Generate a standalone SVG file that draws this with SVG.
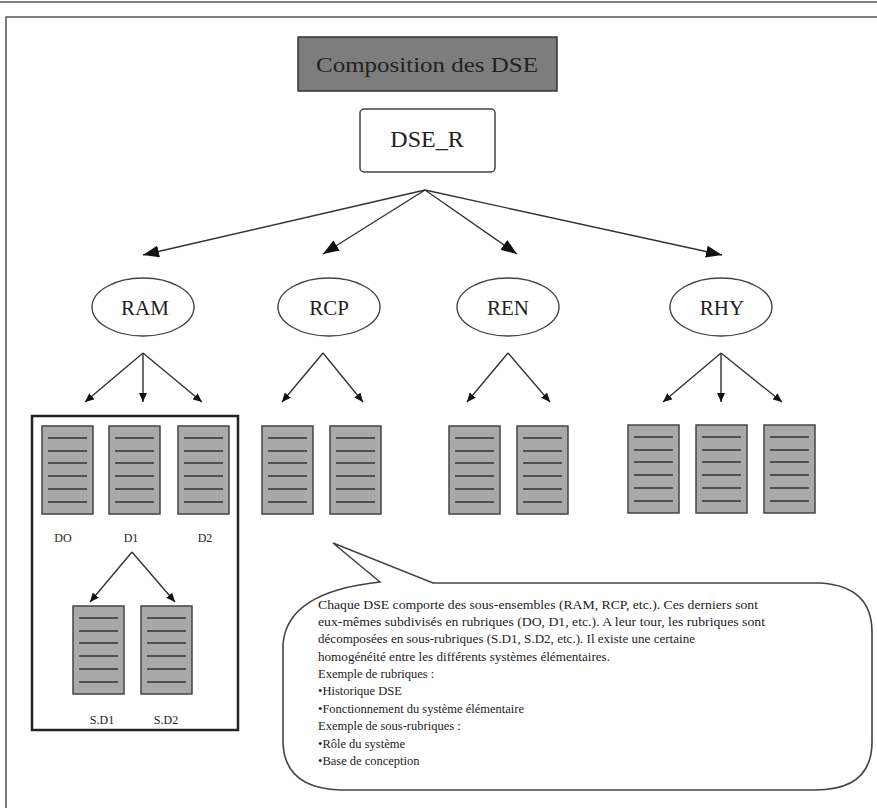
<svg xmlns="http://www.w3.org/2000/svg" width="877" height="808" viewBox="0 0 877 808">
<defs>
<style>
.t{font-family:'Liberation Serif','Tinos','Noto Serif','DejaVu Serif',serif;fill:#222}
.ln{stroke:#333;stroke-width:1.4;fill:none}
.ell{fill:#fff;stroke:#444;stroke-width:1.4}
</style>
<marker id="big" markerUnits="userSpaceOnUse" markerWidth="18" markerHeight="12" refX="16" refY="6" orient="auto"><path d="M0,0 L16,6 L0,12 Z" fill="#111"/></marker>
<marker id="sm" markerUnits="userSpaceOnUse" markerWidth="10" markerHeight="8" refX="9" refY="4" orient="auto"><path d="M0,0 L9,4 L0,8 Z" fill="#111"/></marker>
<g id="docshape">
<rect x="0" y="0" width="51" height="88" fill="#a9a9a9" stroke="#444" stroke-width="1.5"/>
<g stroke="#333" stroke-width="1.6">
<line x1="6" y1="12" x2="45" y2="12"/><line x1="6" y1="25" x2="45" y2="25"/><line x1="6" y1="37" x2="45" y2="37"/><line x1="6" y1="50" x2="45" y2="50"/><line x1="6" y1="63" x2="45" y2="63"/><line x1="6" y1="76" x2="45" y2="76"/>
</g>
</g>
</defs>
<rect width="877" height="808" fill="#fff"/>
<line x1="0" y1="2" x2="877" y2="2" stroke="#555" stroke-width="1.5"/>
<path d="M6 820 L6 17 L890 17" fill="none" stroke="#555" stroke-width="1.5"/>

<g id="title">
<rect x="298" y="37" width="259" height="54" fill="#7d7d7d" stroke="#333" stroke-width="1.5"/>
<text class="t" font-family="Liberation Serif, serif" x="427" y="72" font-size="22" text-anchor="middle" textLength="222" lengthAdjust="spacingAndGlyphs">Composition des DSE</text>
</g>
<g id="dse_r">
<rect x="360" y="109" width="135" height="63" rx="4" fill="#fff" stroke="#444" stroke-width="1.5"/>
<text class="t" font-family="Liberation Serif, serif" x="427" y="147" font-size="24" text-anchor="middle">DSE_R</text>
</g>

<g id="ram"><ellipse class="ell" cx="143" cy="307" rx="51" ry="29"/><text class="t" font-family="Liberation Serif, serif" x="145" y="315" font-size="21" text-anchor="middle">RAM</text></g>
<g id="rcp"><ellipse class="ell" cx="329" cy="307" rx="51" ry="29"/><text class="t" font-family="Liberation Serif, serif" x="329" y="315" font-size="21" text-anchor="middle">RCP</text></g>
<g id="ren"><ellipse class="ell" cx="508" cy="307" rx="51" ry="29"/><text class="t" font-family="Liberation Serif, serif" x="508" y="315" font-size="21" text-anchor="middle">REN</text></g>
<g id="rhy"><ellipse class="ell" cx="721" cy="307" rx="51" ry="29"/><text class="t" font-family="Liberation Serif, serif" x="722" y="315" font-size="21" text-anchor="middle">RHY</text></g>

<g id="connectors">
<line class="ln" x1="425" y1="190" x2="143" y2="255" marker-end="url(#big)"/>
<line class="ln" x1="425" y1="190" x2="323" y2="254" marker-end="url(#big)"/>
<line class="ln" x1="425" y1="190" x2="517" y2="254" marker-end="url(#big)"/>
<line class="ln" x1="425" y1="190" x2="722" y2="255" marker-end="url(#big)"/>
<line class="ln" x1="143" y1="353" x2="85" y2="402" marker-end="url(#sm)"/>
<line class="ln" x1="143" y1="353" x2="143" y2="402" marker-end="url(#sm)"/>
<line class="ln" x1="143" y1="353" x2="202" y2="402" marker-end="url(#sm)"/>
<line class="ln" x1="323" y1="353" x2="282" y2="402" marker-end="url(#sm)"/>
<line class="ln" x1="323" y1="353" x2="363" y2="402" marker-end="url(#sm)"/>
<line class="ln" x1="508" y1="353" x2="467" y2="402" marker-end="url(#sm)"/>
<line class="ln" x1="508" y1="353" x2="550" y2="402" marker-end="url(#sm)"/>
<line class="ln" x1="721" y1="353" x2="663" y2="402" marker-end="url(#sm)"/>
<line class="ln" x1="721" y1="353" x2="721" y2="402" marker-end="url(#sm)"/>
<line class="ln" x1="721" y1="353" x2="782" y2="402" marker-end="url(#sm)"/>
<line class="ln" x1="132" y1="552" x2="90" y2="602" marker-end="url(#sm)"/>
<line class="ln" x1="132" y1="552" x2="175" y2="602" marker-end="url(#sm)"/>
</g>

<g id="ram_box">
<rect x="32" y="416" width="206" height="314" fill="none" stroke="#222" stroke-width="2.5"/>
</g>
<g id="d0"><use href="#docshape" x="42" y="426"/><text class="t" font-family="Liberation Serif, serif" x="63" y="542" font-size="12" text-anchor="middle">DO</text></g>
<g id="d1"><use href="#docshape" x="109" y="426"/><text class="t" font-family="Liberation Serif, serif" x="131" y="542" font-size="12" text-anchor="middle">D1</text></g>
<g id="d2"><use href="#docshape" x="178" y="426"/><text class="t" font-family="Liberation Serif, serif" x="205" y="542" font-size="12" text-anchor="middle">D2</text></g>
<g id="sd1"><use href="#docshape" x="73" y="606"/><text class="t" font-family="Liberation Serif, serif" x="102" y="724" font-size="12" text-anchor="middle">S.D1</text></g>
<g id="sd2"><use href="#docshape" x="141" y="606"/><text class="t" font-family="Liberation Serif, serif" x="166" y="724" font-size="12" text-anchor="middle">S.D2</text></g>

<g id="rcp_docs"><use href="#docshape" x="262" y="426"/><use href="#docshape" x="330" y="426"/></g>
<g id="ren_docs"><use href="#docshape" x="449" y="426"/><use href="#docshape" x="517" y="426"/></g>
<g id="rhy_docs"><use href="#docshape" x="628" y="425"/><use href="#docshape" x="696" y="425"/><use href="#docshape" x="764" y="425"/></g>

<g id="callout">
<path d="M380 582 L333 543 L433 583 L820 583 Q872 586 872 632 L872 742 Q872 790 815 790 L340 790 Q284 788 283 742 L283 645 Q286 592 380 582 Z" fill="#fff" stroke="#444" stroke-width="1.6"/>
<g class="t" font-family="Liberation Serif, serif" font-size="12.5">
<text x="318" y="609" textLength="440" lengthAdjust="spacingAndGlyphs">Chaque DSE comporte des sous-ensembles (RAM, RCP, etc.). Ces derniers sont</text>
<text x="318" y="626" textLength="447" lengthAdjust="spacingAndGlyphs">eux-mêmes subdivisés en rubriques (DO, D1, etc.). A leur tour, les rubriques sont</text>
<text x="318" y="643" textLength="377" lengthAdjust="spacingAndGlyphs">décomposées en sous-rubriques (S.D1, S.D2, etc.). Il existe une certaine</text>
<text x="318" y="661" textLength="292" lengthAdjust="spacingAndGlyphs">homogénéité entre les différents systèmes élémentaires.</text>
<text x="318" y="678">Exemple de rubriques :</text>
<text x="318" y="695">•Historique DSE</text>
<text x="318" y="713">•Fonctionnement du système élémentaire</text>
<text x="318" y="730">Exemple de sous-rubriques :</text>
<text x="318" y="748">•Rôle du système</text>
<text x="318" y="765">•Base de conception</text>
</g>
</g>
</svg>
